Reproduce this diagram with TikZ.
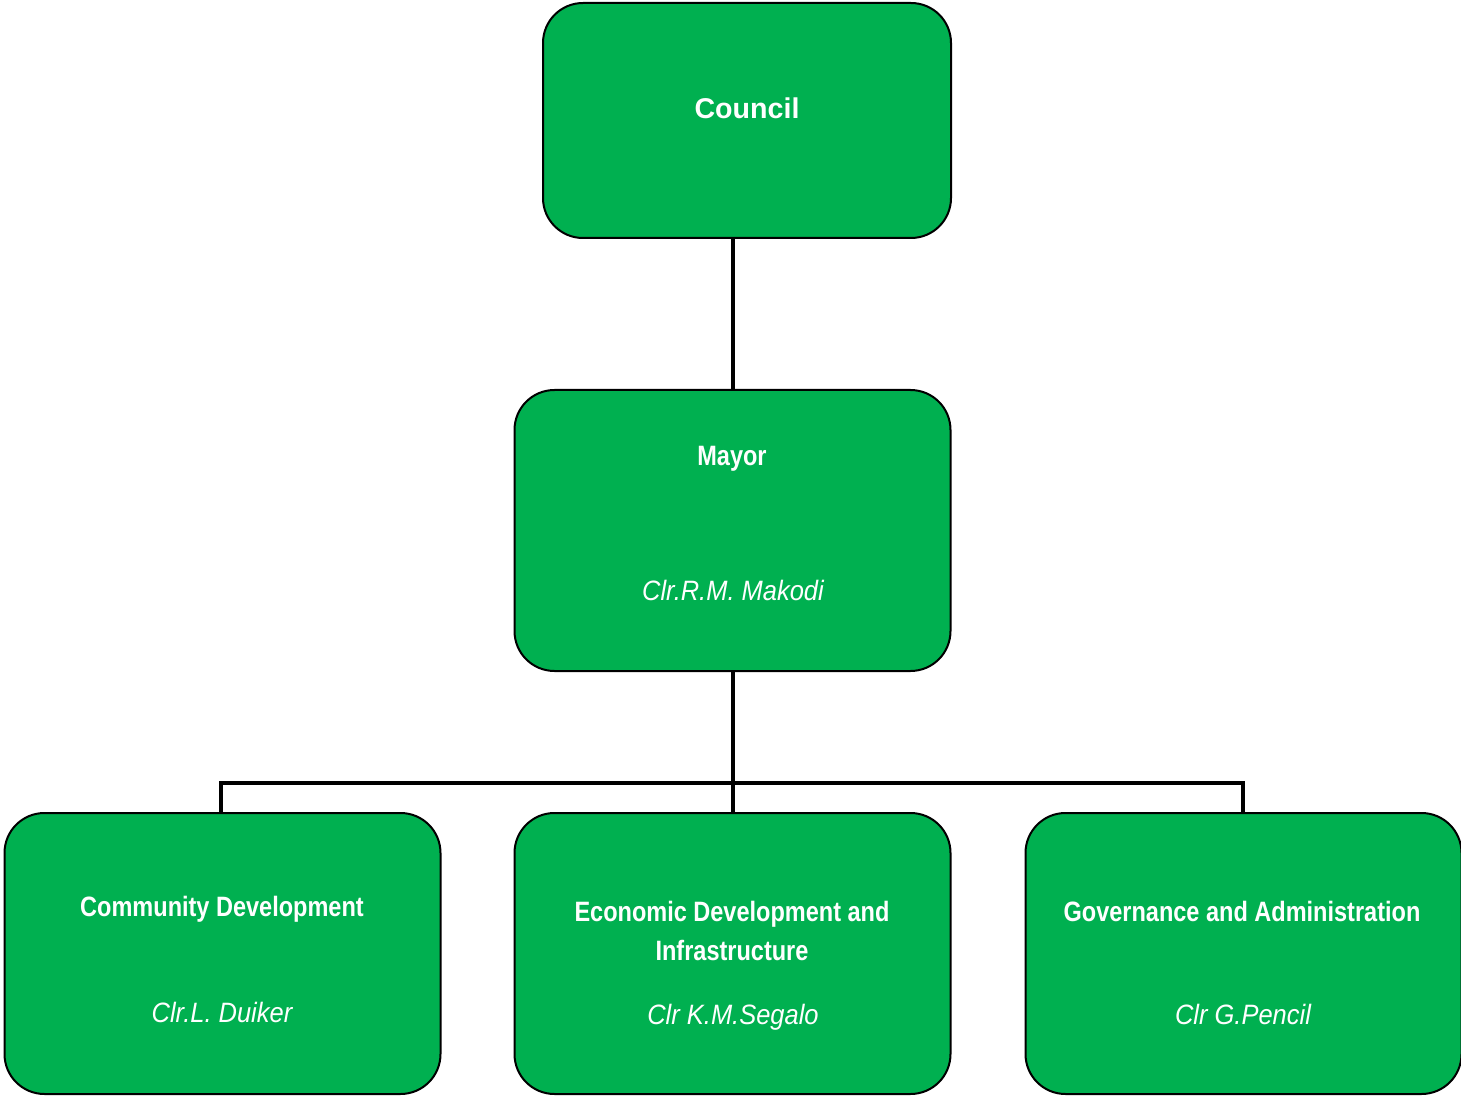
\documentclass[tikz,border=0pt]{standalone}
\usepackage{fontspec}
\setmainfont{Liberation Sans}
\newfontfamily\narrowfont[FakeStretch=0.84]{Liberation Sans}
\newfontfamily\narrowitfont[FakeStretch=0.91]{Liberation Sans}
\definecolor{boxgreen}{HTML}{00B050}
\tikzset{
  orgbox/.style={draw=black, line width=1pt, fill=boxgreen, rounded corners=20pt,
    minimum width=218pt, minimum height=140.5pt, inner sep=0pt, outer sep=0pt},
  title/.style={text=white, font=\narrowfont\bfseries\fontsize{14}{19.5}\selectfont, align=center, inner sep=0pt},
  person/.style={text=white, font=\narrowitfont\itshape\fontsize{14}{17}\selectfont, inner sep=0pt},
  link/.style={line width=2.1pt, black}
}
\begin{document}
\begin{tikzpicture}[x=0.5pt,y=-0.5pt]
\useasboundingbox (0,0) rectangle (1461,1096);
% boxes
\node[orgbox, minimum width=204pt, minimum height=117.5pt] (council) at (747,120.5) {};
\node[orgbox] (mayor) at (732.5,530.5) {};
\node[orgbox] (comm) at (222.5,953.5) {};
\node[orgbox] (econ) at (732.5,953.5) {};
\node[orgbox] (gov) at (1243.5,953.5) {};
% texts
\node[text=white, font=\bfseries\fontsize{14.3}{17}\selectfont, inner sep=0pt] (councilt) at (747,108) {Council};
\node[title] (mayort) at (732,459) {Mayor};
\node[person] (mayorp) at (733,590) {Clr.R.M. Makodi};
\node[title] (commt) at (222,909) {Community Development};
\node[person] (commp) at (222,1012) {Clr.L. Duiker};
\node[title] (econt) at (732,931) {Economic Development and\\Infrastructure};
\node[person] (econp) at (733,1017) {Clr K.M.Segalo};
\node[title] (govt) at (1242,911) {Governance and Administration};
\node[person] (govp) at (1243,1014) {Clr G.Pencil};
% connectors
\coordinate (bus) at (733,783);
\draw[link] (council.south -| bus) -- (mayor.north -| bus);
\draw[link] (mayor.south -| bus) -- (econ.north -| bus);
\draw[link] (comm.north -| 221,0) -- (221,783) -- (1243,783) -- (gov.north -| 1243,0);
\end{tikzpicture}
\end{document}
